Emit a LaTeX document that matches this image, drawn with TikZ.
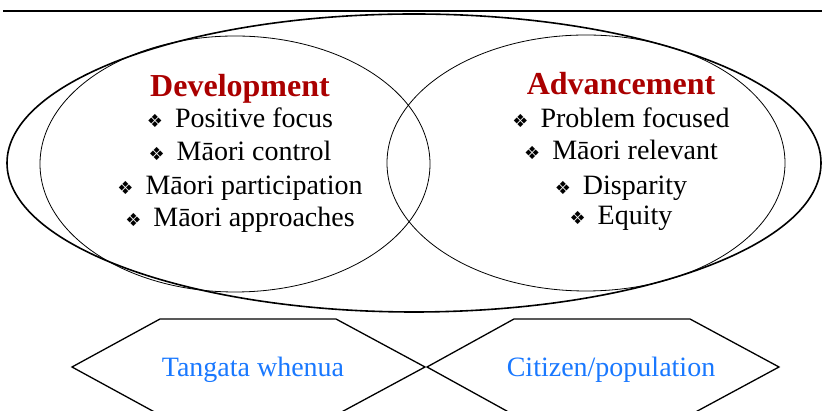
\documentclass[tikz,border=0pt]{standalone}
\usepackage{fontspec}
\setmainfont{Liberation Serif}
\newfontfamily\dingfont{DejaVu Sans}
\usetikzlibrary{positioning}
\definecolor{darkred}{RGB}{170,0,0}
\definecolor{labelblue}{RGB}{25,120,255}
% four-diamond bullet
\newcommand{\bul}{\raisebox{0.5pt}{\dingfont\fontsize{18}{18}\selectfont ❖}\hspace{12pt}}
\tikzset{
  heading/.style={anchor=base, inner sep=0pt, text=darkred, font=\fontsize{32}{32}\selectfont\bfseries},
  item/.style={anchor=base, inner sep=0pt, font=\fontsize{28}{28}\selectfont},
  grouplabel/.style={anchor=base, inner sep=0pt, text=labelblue, font=\fontsize{28}{28}\selectfont},
  ring/.style={line width=0.8pt},
  hexa/.style={line width=1.3pt, line join=miter}
}

\begin{document}
\begin{tikzpicture}[x=1pt,y=1pt]
  \clip (0,0) rectangle (822,411);
  % Rule and outer ellipse
  \draw[line width=2pt] (3,400) -- (822,400);
  \draw[line width=1.6pt] (414,248) ellipse [x radius=407pt, y radius=149pt];

  % Overlapping circles
  \draw[ring] (235,247) ellipse [x radius=195pt, y radius=128pt];
  \draw[ring] (586,248) ellipse [x radius=199pt, y radius=128pt];

  % Development side
  \node[heading] (dev) at (240,314) {Development};
  \node[item] (dev1) at (240,283) {\bul Positive focus};
  \node[item] (dev2) at (240,250) {\bul Māori control};
  \node[item] (dev3) at (240,216) {\bul Māori participation};
  \node[item] (dev4) at (240,184) {\bul Māori approaches};

  % Advancement side
  \node[heading] (adv) at (621,316) {Advancement};
  \node[item] (adv1) at (621,283) {\bul Problem focused};
  \node[item] (adv2) at (621,251) {\bul Māori relevant};
  \node[item] (adv3) at (621,216) {\bul Disparity};
  \node[item] (adv4) at (621,186) {\bul Equity};

  % Hexagons
  \draw[hexa] (72,44) -- (160,92) -- (336,92) -- (425,44) -- (336,-4) -- (160,-4) -- cycle;
  \draw[hexa] (427,44) -- (514,92) -- (690,92) -- (779,44) -- (690,-4) -- (514,-4) -- cycle;
  \node[grouplabel] (tw) at (253,34) {Tangata whenua};
  \node[grouplabel] (cp) at (611,34) {Citizen/population};
\end{tikzpicture}
\end{document}
